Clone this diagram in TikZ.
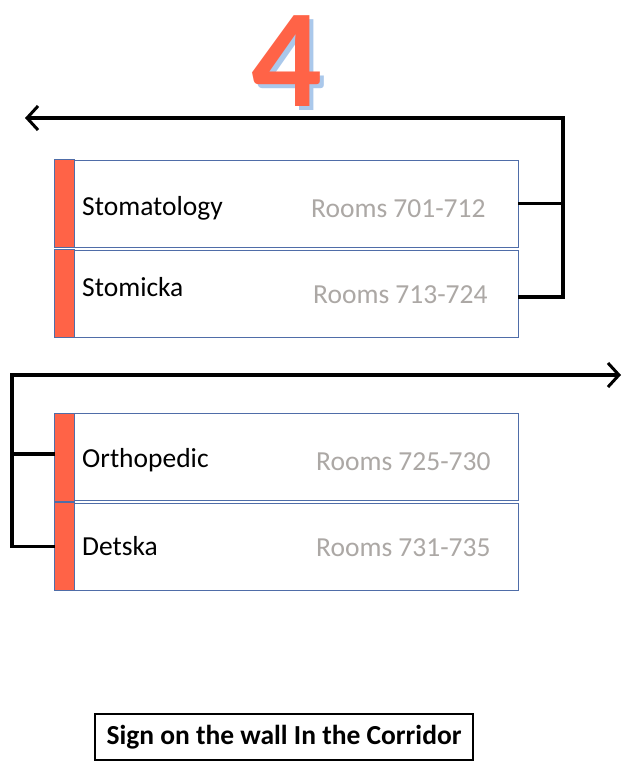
\documentclass[tikz,border=0pt]{standalone}
\usepackage{fontspec}
\setmainfont{Carlito}
\usetikzlibrary{arrows.meta,calc,positioning}
\definecolor{tomatored}{RGB}{255,99,71}
\definecolor{boxblue}{RGB}{79,109,168}
\definecolor{roomgray}{RGB}{172,168,165}
\definecolor{shadowblue}{RGB}{170,200,235}
\tikzstyle{room} = [rectangle, draw=boxblue, line width=0.8pt, fill=white,
    minimum width=463pt, minimum height=87pt, inner sep=0pt]
\tikzstyle{stripe} = [fill=tomatored, draw=boxblue, line width=0.8pt]
\tikzstyle{dept} = [anchor=west, inner sep=0pt, font=\fontsize{27.5}{32}\selectfont]
\tikzstyle{rooms} = [anchor=west, inner sep=0pt, text=roomgray, font=\fontsize{27.5}{32}\selectfont]
\tikzstyle{line} = [draw, line width=3.2pt]
\tikzstyle{arrow} = [draw, line width=3.2pt, -{Straight Barb[length=11pt,width=24pt,line width=3pt]}]

\begin{document}
\begin{tikzpicture}[x=1pt,y=-1pt]
    \useasboundingbox (0,0) rectangle (623,761);
    % Floor number
    \node[text=shadowblue, inner sep=0pt, font=\fontsize{140}{140}\bfseries] (floorsh) at (291,65) {4};
    \node[text=tomatored, inner sep=0pt, font=\fontsize{140}{140}\bfseries] (floor) at (287,61) {4};
    % Place nodes
    \node[room] (stoma) at (286.5,203.5) {};
    \node[room] (stomi) at (286.5,293.5) {};
    \node[room] (ortho) at (286.5,457) {};
    \node[room] (detsk) at (286.5,546.5) {};
    \foreach \b in {stoma,stomi,ortho,detsk}
        \path[stripe] (\b.north west) rectangle ([xshift=20pt]\b.south west);
    \node[dept] (stomat) at (82,208) {Stomatology};
    \node[rooms] (stomar) at (311,209) {Rooms 701-712};
    \node[dept] (stomit) at (82,287) {Stomicka};
    \node[rooms] (stomir) at (313,295) {Rooms 713-724};
    \node[dept] (orthot) at (82,460) {Orthopedic};
    \node[rooms] (orthor) at (316,462) {Rooms 725-730};
    \node[dept] (detskt) at (82,546) {Detska};
    \node[rooms] (detskr) at (316,548) {Rooms 731-735};
    \coordinate (upcorner) at (563,118);
    \coordinate (upend) at (25,118);
    \coordinate (downcorner) at (12,375);
    \coordinate (downend) at (621,375);
    % Draw edges
    \path[arrow] ([yshift=-3.5pt]stomi.east) -| (upcorner) -- (upend);
    \path[line] (stoma.east) -- (stoma.east -| upcorner);
    \path[arrow] (detsk.west) -| (downcorner) -- (downend);
    \path[line] ([yshift=3pt]ortho.west) -- ([yshift=3pt]ortho.west -| downcorner);
    % Caption
    \node[draw, line width=1.2pt, inner xsep=10pt, minimum width=378pt, minimum height=46pt,
        font=\fontsize{27.5}{32}\bfseries] (caption) at (284,737) {Sign on the wall In the Corridor};
\end{tikzpicture}
\end{document}
